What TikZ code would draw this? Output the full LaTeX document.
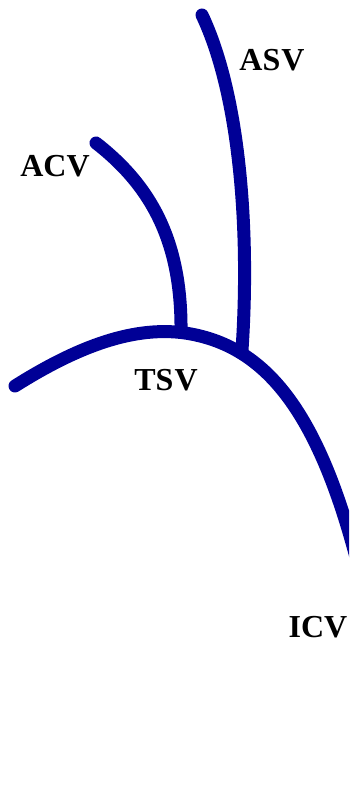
\documentclass[tikz,border=0pt]{standalone}
\usepackage{fontspec}
\setmainfont{Liberation Serif}
\definecolor{vein}{RGB}{0,0,150}
\begin{document}
\begin{tikzpicture}[x=1pt,y=-1pt,
  vessel/.style={draw=vein,line width=13pt,line cap=round},
  lbl/.style={font=\fontsize{32}{33}\selectfont\bfseries,inner sep=0pt}]
\useasboundingbox (0,0) rectangle (349,786);
\clip (0,0) rectangle (349,786);
\coordinate (tsvL) at (15,386);
\coordinate (tsvTop) at (185,333);
\coordinate (jA) at (242,350);
\coordinate (icvEnd) at (358,565);
\coordinate (acvTop) at (96,143);
\coordinate (jC) at (181,332);
\coordinate (asvTop) at (202,15);
% main trunk
\draw[vessel] (tsvL) .. controls (80,345) and (135,326) .. (tsvTop)
  .. controls (265,345) and (318,410) .. (icvEnd);
% ACV
\draw[vessel] (acvTop) .. controls (150,185) and (182,240) .. (jC);
% ASV
\draw[vessel] (asvTop) .. controls (240,95) and (250,230) .. (jA);
\node[lbl] (asv) at (272,60) {AS\kern1pt V};
\node[lbl] (acv) at (55,166) {ACV};
\node[lbl] (tsv) at (166,380) {TS\kern1pt V};
\node[lbl] (icv) at (318,627) {ICV};
\end{tikzpicture}
\end{document}
